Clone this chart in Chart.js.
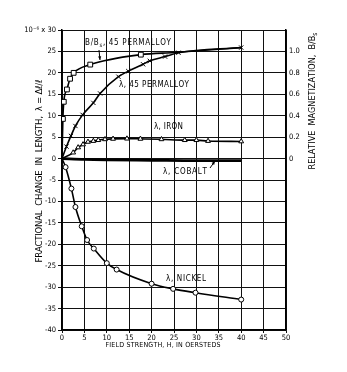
<!DOCTYPE html>
<html><head><meta charset="utf-8">
<script src="https://cdn.jsdelivr.net/npm/chart.js@4/dist/chart.umd.min.js"></script>
<style>html,body{margin:0;padding:0;background:#fff}</style>
</head><body>
<canvas id="c" width="347" height="372" style="width:347px;height:372px;display:block"></canvas>
<script>
// ---- data ----
const fieldTicks = [0,5,10,15,20,25,30,35,40,45,50];
const lambdaTicks = [30,25,20,15,10,5,0,-5,-10,-15,-20,-25,-30,-35,-40];
const magTicks = [0,0.2,0.4,0.6,0.8,1.0];

// B/Bs, 45 Permalloy (right axis)
const permBx = [0,0.2,0.4,1.1,1.8,2.6,6.3,17.6,25,40];
const permBy = [0,0.37,0.53,0.645,0.745,0.80,0.877,0.97,0.99,1.035];
// lambda, 45 Permalloy (x 1e-6)
const permLx = [0,1,2,3,4.6,7,8.5,12.6,14.8,18.1,19.6,23,26,40];
const permLy = [0,2.8,5.3,7.6,10.2,13,15.2,19.1,20.4,22,22.8,23.8,24.7,25.9];
// lambda, Iron
const ironX = [0,2.5,3.6,4.7,5.8,7,8.1,9.6,11.4,14.5,17.5,22.2,27.4,30,32.6,40];
const ironY = [0,1.4,2.6,3.3,3.9,4.1,4.3,4.5,4.6,4.65,4.6,4.5,4.3,4.3,4.1,4.0];
// lambda, Cobalt
const cobaltX = [0,5,10,20,30,40];
const cobaltY = [0,-0.2,-0.3,-0.4,-0.5,-0.5];
// lambda, Nickel
const nickelX = [0,0.8,2.1,3,4.4,5.6,7.1,10,12.2,20,24.8,29.8,40];
const nickelY = [0,-2,-7,-11.3,-15.8,-19,-21,-24.4,-25.9,-29.2,-30.4,-31.3,-32.9];

const pts = (xs, ys) => xs.map((x,i)=>({x, y: ys[i]}));
const FONT = '"Liberation Sans Narrow","DejaVu Sans Condensed","DejaVu Sans",sans-serif';

function drawRich(ctx, segs, x, y, width, size, rot, align) {
  ctx.save();
  ctx.translate(x, y);
  ctx.rotate(rot || 0);
  const chars = [];
  segs.forEach(s => { for (const ch of s[0]) chars.push({ch, sub: !!s[1]}); });
  let nat = 0;
  chars.forEach(c => {
    ctx.font = (c.sub ? size*0.75 : size) + 'px ' + FONT;
    c.w = ctx.measureText(c.ch).width; nat += c.w;
  });
  const sp = width ? (width - nat) / Math.max(1, chars.length - 1) : 0;
  const total = width || nat;
  let cx = align === 'left' ? 0 : -total/2;
  ctx.textBaseline = 'middle';
  ctx.fillStyle = '#000';
  chars.forEach(c => {
    ctx.font = (c.sub ? size*0.75 : size) + 'px ' + FONT;
    ctx.fillText(c.ch, cx, c.sub ? size*0.3 : 0);
    cx += c.w + sp;
  });
  ctx.restore();
}

function arrow(ctx, x1, y1, x2, y2) {
  ctx.save();
  ctx.strokeStyle = '#000'; ctx.fillStyle = '#000'; ctx.lineWidth = 1;
  ctx.beginPath(); ctx.moveTo(x1, y1); ctx.lineTo(x2, y2); ctx.stroke();
  const a = Math.atan2(y2-y1, x2-x1), L = 4;
  ctx.beginPath();
  ctx.moveTo(x2, y2);
  ctx.lineTo(x2 - L*Math.cos(a-0.4), y2 - L*Math.sin(a-0.4));
  ctx.lineTo(x2 - L*Math.cos(a+0.4), y2 - L*Math.sin(a+0.4));
  ctx.closePath(); ctx.fill();
  ctx.restore();
}

const textPlugin = {
  id: 'texts',
  afterDraw(chart) {
    const ctx = chart.ctx;
    // axis titles
    drawRich(ctx, [['FRACTIONAL  CHANGE  IN  LENGTH,  λ = Δℓ/ℓ']], 40, 171, 183, 9.5, -Math.PI/2, 'center');
    drawRich(ctx, [['RELATIVE  MAGNETIZATION,  B/B'],['s',1]], 313, 101, 137, 9, -Math.PI/2, 'center');
    drawRich(ctx, [['FIELD STRENGTH, H, IN OERSTEDS']], 163, 345, 115, 7, 0, 'center');
    // curve labels
    drawRich(ctx, [['B/B'],['s',1],[', 45 PERMALLOY']], 85, 43, 86, 8, 0, 'left');
    drawRich(ctx, [['λ, 45 PERMALLOY']], 119, 85, 70, 8, 0, 'left');
    drawRich(ctx, [['λ, IRON']], 154, 127, 29, 8, 0, 'left');
    drawRich(ctx, [['λ, COBALT']], 163, 172, 44, 8, 0, 'left');
    drawRich(ctx, [['λ, NICKEL']], 166, 279, 40, 8, 0, 'left');
    arrow(ctx, 99, 50, 100, 60);
    arrow(ctx, 210, 168, 215, 161);
  }
};

const ds = (label, data, style, axis, extra) => Object.assign({
  label, data, showLine: true, yAxisID: axis || 'y',
  borderColor: '#000', backgroundColor: '#fff', borderWidth: 1.6,
  pointStyle: style, pointBorderColor: '#000', pointBackgroundColor: '#fff',
  pointBorderWidth: 1, cubicInterpolationMode: 'monotone',
  pointRadius: c => (c.raw && c.raw.x === 0) ? 0 : 2.8
}, extra || {});

new Chart(document.getElementById('c'), {
  type: 'scatter',
  data: { datasets: [
    ds('B/Bs, 45 Permalloy', pts(permBx, permBy), 'rect', 'y2',
       { pointRadius: c => (c.raw && (c.raw.x === 0 || c.raw.x > 20)) ? 0 : 3.4 }),
    ds('λ, 45 Permalloy', pts(permLx, permLy), 'crossRot', 'y', { pointRadius: c => (c.raw && c.raw.x === 0) ? 0 : 3 }),
    ds('λ, Iron', pts(ironX, ironY), 'triangle', 'y'),
    ds('λ, Cobalt', pts(cobaltX, cobaltY), false, 'y', { borderWidth: 2.8, pointRadius: 0 }),
    ds('λ, Nickel', pts(nickelX, nickelY), 'circle', 'y', { pointRadius: c => (c.raw && c.raw.x === 0) ? 0 : 2.5 })
  ]},
  options: {
    responsive: false, animation: false, devicePixelRatio: 1,
    layout: { padding: { top: 30, left: 0, right: 0, bottom: 0 } },
    plugins: { legend: { display: false }, tooltip: { enabled: false } },
    scales: {
      x: {
        type: 'linear', min: 0, max: 50,
        afterBuildTicks: s => { s.ticks = fieldTicks.map(v => ({value: v})); },
        afterFit: s => { s.height = 42; },
        grid: { color: '#111', lineWidth: 1, tickLength: 3, drawTicks: true },
        border: { color: '#000', width: 1.5 },
        ticks: { color: '#000', padding: 1, maxRotation: 0, autoSkip: false,
                 font: { family: FONT, size: 7.5 } }
      },
      y: {
        type: 'linear', position: 'left', min: -40, max: 30,
        afterBuildTicks: s => { s.ticks = lambdaTicks.map(v => ({value: v})); },
        afterFit: s => { s.width = 62; },
        grid: { color: '#111', lineWidth: 1, tickLength: 4 },
        border: { color: '#000', width: 1.5 },
        ticks: { color: '#000', padding: 2, autoSkip: false,
                 font: { family: FONT, size: 7.5 },
                 callback: v => v === 30 ? '10⁻⁶ x 30' : String(v) }
      },
      y2: {
        type: 'linear', position: 'right', min: -1.6, max: 1.2,
        afterBuildTicks: s => { s.ticks = magTicks.map(v => ({value: v})); },
        afterFit: s => { s.width = 61; },
        grid: { display: false, drawOnChartArea: false, drawTicks: false },
        border: { color: '#000', width: 1.5 },
        ticks: { color: '#000', padding: 3, autoSkip: false,
                 font: { family: FONT, size: 7.5 },
                 callback: v => v === 0 ? '0' : v.toFixed(1) }
      }
    }
  },
  plugins: [textPlugin]
});
</script>
</body></html>
